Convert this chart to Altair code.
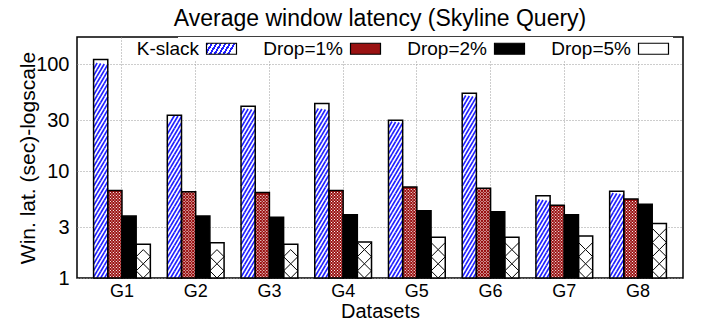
import math
import altair as alt
import pandas as pd

# ---------------- data ----------------
groups = ["G1", "G2", "G3", "G4", "G5", "G6", "G7", "G8"]
series_names = ["K-slack", "Drop=1%", "Drop=2%", "Drop=5%"]
kslack = [111, 33.4, 40.5, 43, 30, 53.6, 5.9, 6.5]
drop1 = [6.6, 6.4, 6.3, 6.6, 7.1, 6.9, 4.8, 5.5]
drop2 = [3.8, 3.8, 3.7, 3.9, 4.25, 4.17, 3.9, 4.9]
drop5 = [2.07, 2.14, 2.07, 2.17, 2.4, 2.4, 2.47, 3.24]
y_tick_values = [1, 3, 10, 30, 100]

rows = []
for s, vals in zip(series_names, [kslack, drop1, drop2, drop5]):
    for g, v in zip(groups, vals):
        rows.append({"group": g, "series": s, "value": v})
df = pd.DataFrame(rows)

# ---------------- style ----------------
W, H = 606, 241
Y_MIN, Y_MAX = 1, 180
PAD_IN, PAD_OUT = 0.23, 0.225
FONT = "Liberation Sans"
BLUE = "#1f1fff"
RED = "#9a1212"
GRID = "#9a9a9a"

DEC = H / math.log10(Y_MAX / Y_MIN)               # px per decade
STEP = W / (len(groups) - PAD_IN + 2 * PAD_OUT)
SUB = STEP * (1 - PAD_IN) / len(series_names)     # width of one bar
SLOPE = 1.7
STRIPE_SP = 6.5

x_enc = alt.X(
    "group:N", sort=groups,
    scale=alt.Scale(paddingInner=PAD_IN, paddingOuter=PAD_OUT),
    axis=alt.Axis(title="Datasets", labelAngle=0, ticks=False, tickSize=0, domain=False,
                  labelPadding=4, titlePadding=1, grid=True, gridDash=[1, 2],
                  gridColor=GRID, gridWidth=1, labelFontSize=18, titleFontSize=20),
)
xo_enc = alt.XOffset("series:N", sort=series_names,
                     scale=alt.Scale(paddingInner=0, paddingOuter=0))


def y_enc(field):
    return alt.Y(
        f"{field}:Q",
        scale=alt.Scale(type="log", domain=[Y_MIN, Y_MAX], nice=False),
        axis=alt.Axis(title="Win. lat. (sec)-logscale", values=y_tick_values, format="d",
                      ticks=False, tickSize=0, domain=False, labelPadding=8,
                      titlePadding=-3, grid=True, gridDash=[1, 2], gridColor=GRID,
                      gridWidth=1, labelFontSize=20, titleFontSize=21),
    )


# legend swatch gradient for the striped series
stops = []
n_str = 7
for j in range(n_str):
    a, b, c = j / n_str, (j + 0.5) / n_str, (j + 1) / n_str
    stops += [f"{{offset:{a:.4f},color:'{BLUE}'}}", f"{{offset:{b:.4f},color:'{BLUE}'}}",
              f"{{offset:{b:.4f},color:'white'}}", f"{{offset:{c:.4f},color:'white'}}"]
grad = "{gradient:'linear',x1:0,y1:0,x2:1,y2:0.22,stops:[" + ",".join(stops) + "]}"

# legend swatch drawn to the right of its label (path in pixel units, size=4)
SW_A, SW_W, SW_H = 17, 30, 5.5
swatch = f"M{SW_A},-{SW_H}L{SW_A + SW_W},-{SW_H}L{SW_A + SW_W},{SW_H}L{SW_A},{SW_H}Z"

fills = alt.Chart(df).transform_filter(alt.datum.series != "K-slack").mark_bar().encode(
    x=x_enc, xOffset=xo_enc, y=y_enc("value"), y2=alt.datum(Y_MIN),
    fill=alt.Fill(
        "series:N", sort=series_names,
        scale=alt.Scale(domain=series_names,
                        range=[alt.ExprRef(grad), RED, "black", "white"]),
        legend=alt.Legend(
            title=None, orient="none", legendX=101, legendY=0, direction="horizontal",
            symbolType=swatch, symbolSize=4,
            symbolStrokeColor="black", symbolStrokeWidth=1.2, symbolOffset=0,
            labelFont=FONT, labelFontSize=19, labelColor="black",
            labelAlign="right", labelOffset=0, columnPadding=24, gridAlign="all",
            fillColor="white", padding=2,
        ),
    ),
)

ks_white = alt.Chart(df).transform_filter(alt.datum.series == "K-slack").mark_bar(
    fill="white").encode(x=x_enc, xOffset=xo_enc, y=y_enc("value"), y2=alt.datum(Y_MIN))


def hatch(series, shape, size, color, width, spacing_px, top_px, kmin, kmax, filled=False):
    step_log = spacing_px / DEC
    top_log = top_px / DEC
    mark_kw = dict(shape=shape, size=size, opacity=1, clip=True)
    if filled:
        mark_kw.update(filled=True, fill=color, strokeWidth=0)
    else:
        mark_kw.update(filled=False, stroke=color, strokeWidth=width)
    return (
        alt.Chart(df)
        .transform_filter(alt.datum.series == series)
        .transform_calculate(k=f"sequence({kmin}, {kmax})")
        .transform_flatten(["k"])
        .transform_filter(f"datum.k * {step_log} + {top_log} <= log(datum.value) / LN10")
        .transform_calculate(h=f"pow(10, datum.k * {step_log})")
        .mark_point(**mark_kw)
        .encode(x=x_enc, xOffset=xo_enc, y=y_enc("h"))
    )


layers = [fills, ks_white]

# K-slack: diagonal blue stripes, each stripe split in quarters
n_q = 4
q = SUB / n_q
for i in range(n_q):
    x0 = -SUB / 2 + i * q
    x1 = x0 + q
    seg = f"M{x0:.2f},{-SLOPE * x0:.2f}L{x1:.2f},{-SLOPE * x1:.2f}"
    layers.append(hatch("K-slack", seg, 4, BLUE, 1.6, STRIPE_SP, SLOPE * x1, -4, 45))

# Drop=1%: fine white checker dots on red
DOT = 0.5
dot_parts = []
for yy, xs in [(0, [-6, -3, 0, 3, 6]), (-1.5, [-4.5, -1.5, 1.5, 4.5])]:
    for xx in xs:
        dot_parts.append(f"M{xx - DOT},{yy - DOT}h{2 * DOT}v{2 * DOT}h{-2 * DOT}Z")
layers.append(hatch("Drop=1%", "".join(dot_parts), 4, "white", 0, 3, 1.5 + DOT, 0, 40,
                    filled=True))

# Drop=5%: black cross-hatch
layers.append(hatch("Drop=5%", "M-1,-1L0,0L1,-1", SUB * SUB, "black", 1, SUB, SUB / 2, 0, 12))
layers.append(hatch("Drop=5%", "M-1,1L0,0L1,1", SUB * SUB, "black", 1, SUB, 0, 0, 12))

outlines = alt.Chart(df).mark_bar(fillOpacity=0, stroke="black", strokeWidth=1.5).encode(
    x=x_enc, xOffset=xo_enc, y=y_enc("value"), y2=alt.datum(Y_MIN))
layers.append(outlines)

chart = (
    alt.layer(*layers)
    .properties(
        width=W, height=H,
        padding={"left": 69, "top": 29, "right": 11, "bottom": 46},
        autosize=alt.AutoSizeParams(type="none"),
        title=alt.Title("Average window latency (Skyline Query)", fontSize=23, font=FONT,
                        fontWeight="normal", anchor="middle", offset=6,
                        frame="group", color="black"),
    )
    .configure_view(stroke="black", strokeWidth=1.5)
    .configure_axis(labelFont=FONT, titleFont=FONT, labelColor="black", titleColor="black",
                    titleFontWeight="normal")
)

chart.save("out.html", embed_options={"renderer": "svg", "actions": False})
